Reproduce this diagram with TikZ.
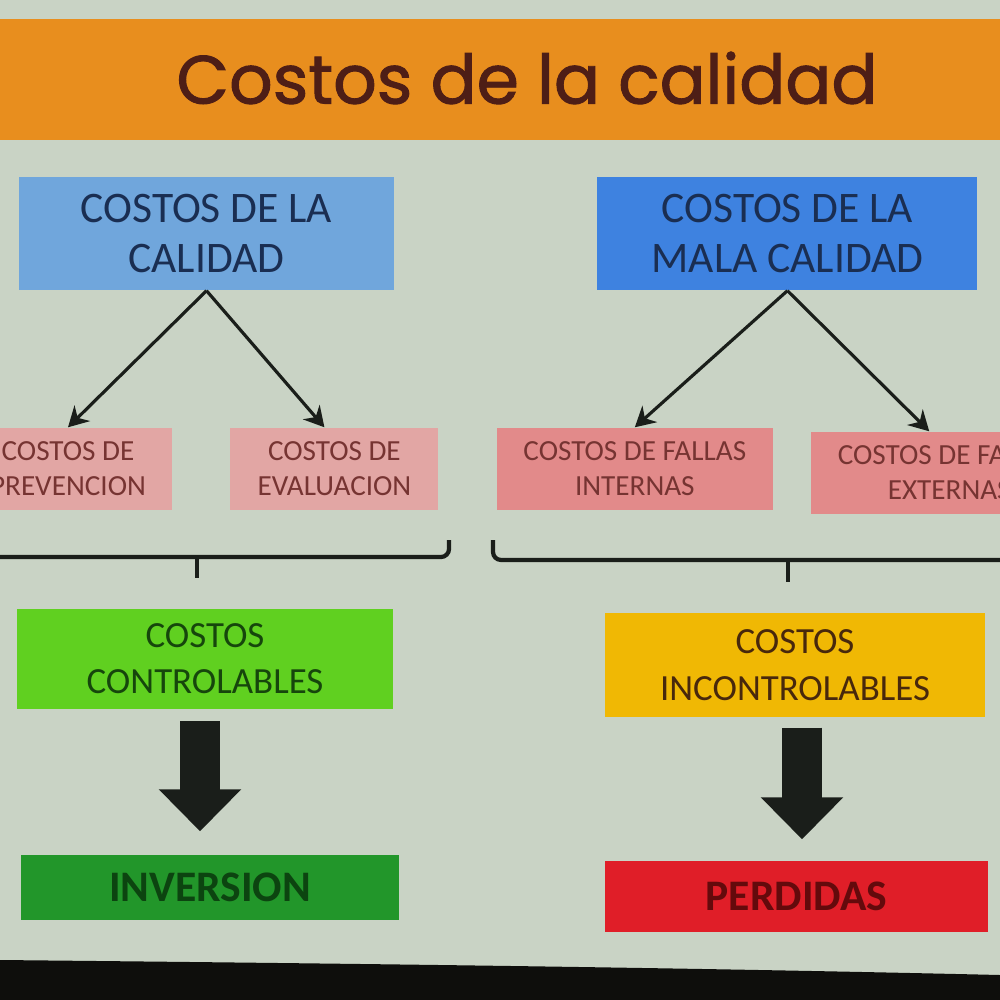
\documentclass[tikz,border=0pt]{standalone}
\usepackage{fontspec}
\setmainfont{Carlito}
\newfontfamily\titlefont[FakeBold=1.4]{Poppins}
\usepackage{tikz}
\usetikzlibrary{positioning,arrows.meta}
\definecolor{SlideBg}{RGB}{201,211,197}
\definecolor{TitleBar}{RGB}{232,142,30}
\definecolor{TitleInk}{RGB}{78,30,22}
\definecolor{BlueA}{RGB}{112,166,220}
\definecolor{BlueB}{RGB}{62,130,224}
\definecolor{BlueInk}{RGB}{26,46,82}
\definecolor{PinkA}{RGB}{226,166,164}
\definecolor{PinkB}{RGB}{226,138,138}
\definecolor{PinkInk}{RGB}{118,52,50}
\definecolor{GreenA}{RGB}{96,208,32}
\definecolor{GreenInk}{RGB}{22,70,12}
\definecolor{GoldA}{RGB}{240,184,4}
\definecolor{GoldInk}{RGB}{72,40,12}
\definecolor{GreenB}{RGB}{34,150,42}
\definecolor{GreenBInk}{RGB}{12,68,16}
\definecolor{RedA}{RGB}{224,30,40}
\definecolor{RedInk}{RGB}{100,10,12}
\definecolor{Ink}{RGB}{26,30,26}
\definecolor{Floor}{RGB}{14,14,12}

\begin{document}
\begin{tikzpicture}[
  hdbox/.style={rectangle, minimum width=3.75cm, minimum height=1.13cm,
    font=\fontsize{12.4}{14.2}\selectfont, text=BlueInk, align=center, inner sep=0pt},
  subbox/.style={rectangle, minimum width=2.08cm, minimum height=0.82cm,
    font=\fontsize{8.3}{10}\selectfont, text=PinkInk, align=center, inner sep=0pt},
  ctlbox/.style={rectangle, minimum width=3.76cm, minimum height=1.0cm,
    font=\fontsize{10.5}{13.2}\selectfont, align=center, inner sep=0pt},
  endbox/.style={rectangle, minimum width=3.78cm, minimum height=0.68cm,
    font=\fontsize{12.4}{15}\selectfont\bfseries, align=center, inner sep=0pt},
  tarr/.style={-{Stealth[length=2mm, width=2.2mm]}, line width=0.9pt, Ink},
  barr/.style={-{Triangle[length=4.2mm, width=8mm]}, line width=4mm, Ink},
  brk/.style={line width=1.2pt, Ink, rounded corners=0.8mm},
]
\useasboundingbox (0,0) rectangle (10,-10);
\clip (0,0) rectangle (10,-10);
% Slide
\fill[SlideBg] (0,0) rectangle (10,-10);
\fill[TitleBar] (0,-0.19) rectangle (10,-1.40);
\node[font=\titlefont\fontsize{19.4}{24}\selectfont, text=TitleInk] (title) at (5.27,-0.78) {Costos de la calidad};
\fill[Floor] (0,-9.6) .. controls (4,-9.64) and (7,-9.68) .. (10,-9.75) -- (10,-10) -- (0,-10) -- cycle;
% Top row
\node[hdbox, fill=BlueA] (cal) at (2.065,-2.335) {COSTOS DE LA\\CALIDAD};
\node[hdbox, fill=BlueB, minimum width=3.8cm, right=2.02cm of cal] (mala) {COSTOS DE LA\\MALA CALIDAD};
% Second row
\node[subbox, fill=PinkA] (prev) at (0.68,-4.69) {COSTOS DE\\PREVENCION};
\node[subbox, fill=PinkA, right=0.57cm of prev] (eval) {COSTOS DE\\EVALUACION};
\node[subbox, fill=PinkB, minimum width=2.76cm, right=0.57cm of eval] (fint) {COSTOS DE FALLAS\\INTERNAS};
\node[subbox, fill=PinkB, minimum width=2.76cm, right=0.37cm of fint, yshift=-0.04cm] (fext) {COSTOS DE FALLAS\\EXTERNAS};
% Third row
\node[ctlbox, fill=GreenA, text=GreenInk] (ctrl) at (2.05,-6.585) {COSTOS\\CONTROLABLES};
\node[ctlbox, fill=GoldA, text=GoldInk, minimum width=3.8cm, minimum height=1.04cm] (inctrl) at (7.95,-6.65) {COSTOS\\INCONTROLABLES};
% Bottom row
\node[endbox, fill=GreenB, text=GreenBInk, minimum height=0.65cm] (inv) at (2.10,-8.875) {INVERSION};
\node[endbox, fill=RedA, text=RedInk, minimum width=3.83cm, minimum height=0.71cm] (perd) at (7.965,-8.965) {PERDIDAS};
% Thin arrows
\draw[tarr] (cal.south) -- (prev.north);
\draw[tarr] (cal.south) -- ([xshift=-1mm]eval.north);
\draw[tarr] (mala.south) -- (fint.north);
\draw[tarr] (mala.south) -- ([xshift=-2mm]fext.north);
% Brackets
\coordinate (brkL) at (1.97,-5.57);
\coordinate (brkR) at (7.88,-5.60);
\draw[brk] (-0.2,-5.57) -- (4.49,-5.57) -- (4.49,-5.40);
\draw[brk] (brkL) -- ++(0,-0.21);
\draw[brk] (4.93,-5.40) -- (4.93,-5.60) -- (10.2,-5.60);
\draw[brk] (brkR) -- ++(0,-0.22);
% Block arrows
\draw[barr, shorten <=1.2mm, shorten >=2.3mm] ([xshift=-0.5mm]ctrl.south) -- ([xshift=-0.5mm]ctrl.south |- inv.north);
\draw[barr, shorten <=1.0mm, shorten >=2.1mm] ([xshift=0.7mm]inctrl.south) -- ([xshift=0.7mm]inctrl.south |- perd.north);
\end{tikzpicture}
\end{document}
